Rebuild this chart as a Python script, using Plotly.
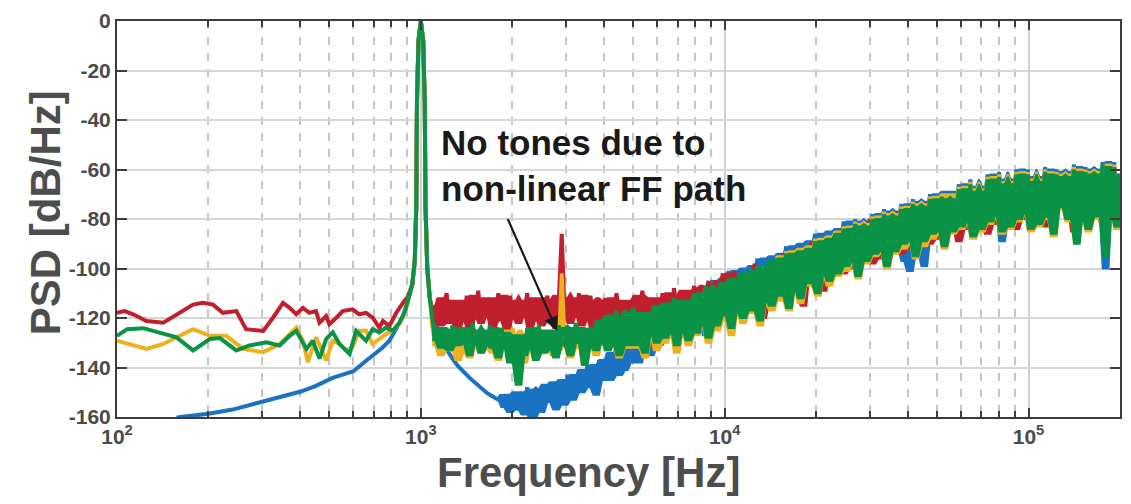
import numpy as np
import plotly.graph_objects as go

# ---------------------------------------------------------------------------
# Low-frequency part of each spectrum (Hz, dB/Hz), below the 1 kHz test tone
# ---------------------------------------------------------------------------
BLUE_LF_HZ = [157, 200, 240, 300, 350, 400, 450, 512, 550, 600, 662, 700, 747, 788, 831, 869, 905]
BLUE_LF_DB = [-160.2, -158.7, -157, -153.8, -151.8, -149.8, -147.5, -144.2, -143, -141.5,
              -137.2, -135, -132, -129.2, -124.6, -120, -113.5]

RED_LF_HZ = [100, 106, 113, 125, 142, 157, 178, 192, 207, 223, 247, 266, 303, 326, 352,
             370, 389, 409, 430, 452, 464, 488, 500, 527, 553, 596, 627, 660, 694, 730,
             750, 788, 830, 873, 905]
RED_LF_DB = [-117.9, -117.2, -118.5, -121.2, -121.9, -118.5, -114.6, -113.9, -114.6, -117.9,
             -117.2, -124.5, -125.2, -119.9, -113.9, -115.9, -118.5, -115.9, -117.9, -117.2,
             -121.9, -119.2, -122.5, -119.9, -117.2, -116.5, -118.5, -117.9, -119.9, -123.9,
             -121.2, -123.2, -117.9, -113.9, -111.5]

YELLOW_LF_HZ = [100, 110, 125, 142, 178, 202, 229, 260, 303, 343, 389, 409, 425, 452, 488,
                513, 540, 567, 596, 627, 660, 694, 730, 768, 808, 850, 885]
YELLOW_LF_DB = [-129.2, -130.5, -132.5, -130.5, -124.5, -127.2, -127.2, -132.5, -133.8, -130.5,
                -123.9, -129.2, -137.8, -127.8, -137.1, -129.2, -130.5, -133.1, -131.8, -125.2,
                -125.2, -130.5, -128.5, -126.5, -125.2, -122.5, -118]

GREEN_LF_HZ = [100, 108, 122, 138, 157, 178, 202, 218, 247, 273, 310, 343, 370, 389, 420,
               441, 464, 488, 513, 540, 583, 612, 660, 694, 730, 768, 808, 850, 885]
GREEN_LF_DB = [-127.2, -124.5, -124.1, -125.8, -127.8, -133.1, -128.5, -128.1, -133.1, -131.1,
               -129.8, -131.1, -127.2, -125.2, -132.5, -129.2, -136.4, -128.5, -125.8, -130.5,
               -134.5, -125.2, -129.2, -124.5, -125.8, -123.9, -125.2, -121.9, -117.5]

# 1 kHz test tone, common to all four spectra
TONE_HZ = [937, 955, 966, 971, 982, 1000, 1018, 1030, 1036, 1050, 1070]
TONE_DB = [-106.5, -97, -75, -33, -8, 0, -8, -33, -75, -100, -112]

# ---------------------------------------------------------------------------
# Shaped noise above the tone, sampled on a log-spaced bin grid 1.09k..200k
# ---------------------------------------------------------------------------
HF_START_HZ = 1090
HF_STOP_HZ = 200000

BLUE_HF_DB = [
    -118, -122, -125, -128, -130.5, -132.5, -134.5, -136.5, -138, -139.5,
    -140.5, -141.8, -143, -144.2, -145.3, -146.4, -147.4, -148.3, -149.7, -150.3,
    -151, -151.6, -152.2, -153, -151, -156, -152, -158, -150, -155,
    -157, -150, -159, -148, -155, -161, -149, -153, -158, -147,
    -154, -146, -152, -157, -145, -150, -155, -143, -149, -153,
    -147, -141, -150, -144, -139, -148, -142, -151, -137, -145,
    -140, -134, -145, -137, -131, -143, -136, -141, -130, -138,
    -133, -127, -138, -124, -130, -121, -135, -126, -119, -131,
    -122, -129, -117, -126, -113, -132, -120, -124, -116, -128,
    -115, -124, -110, -121, -107, -127, -113, -119, -105, -122,
    -104, -117, -109, -101, -122, -106, -114, -100, -119, -108,
    -99, -115, -104, -96, -119, -102, -110, -95, -113, -101,
    -94, -110, -98, -91, -114, -97, -105, -90, -111, -96,
    -89, -105, -94, -86, -108, -92, -99, -85, -104, -91,
    -84, -100, -89, -81, -98, -87, -95, -80, -101, -86,
    -81, -95, -85, -78, -93, -83, -90, -76, -97, -82,
    -77, -92, -81, -74, -97, -79, -101, -72, -94, -78,
    -73, -99, -78, -70, -88, -75, -83, -69, -90, -74,
    -69, -84, -75, -66, -82, -71, -79, -64, -86, -70,
    -67, -83, -72, -62, -80, -68, -76, -61, -89, -66,
    -64, -82, -71, -60, -79, -67, -75, -60, -83, -66,
    -63, -81, -70, -59, -78, -66, -85, -60, -74, -65,
    -61, -80, -69, -58, -86, -65, -77, -59, -83, -64,
    -60, -79, -68, -57, -100, -65, -76, -57, -82, -62,
]

RED_HF_DB = [
    -116, -121, -112, -123, -115, -110, -122, -117, -113, -124,
    -114, -120, -111, -125, -116, -119, -109, -122, -115, -118,
    -112, -124, -117, -110, -121, -114, -125, -111, -119, -116,
    -122, -113, -118, -110, -124, -115, -120, -112, -123, -117,
    -111, -121, -116, -124, -113, -86, -119, -112, -122, -115,
    -118, -110, -123, -114, -120, -111, -125, -116, -113, -121,
    -112, -119, -115, -122, -110, -117, -124, -113, -120, -114,
    -118, -111, -121, -109, -116, -123, -112, -119, -114, -122,
    -110, -118, -113, -121, -108, -116, -111, -120, -114, -109,
    -117, -107, -114, -120, -108, -112, -105, -118, -110, -115,
    -108, -102, -115, -106, -119, -101, -112, -109, -104, -117,
    -103, -113, -98, -110, -105, -120, -100, -108, -114, -97,
    -99, -108, -94, -112, -101, -96, -110, -92, -105, -115,
    -94, -103, -89, -107, -97, -92, -109, -87, -100, -95,
    -89, -98, -84, -102, -92, -87, -100, -83, -95, -90,
    -85, -94, -80, -98, -88, -83, -96, -79, -92, -86,
    -81, -90, -77, -94, -84, -79, -92, -75, -88, -82,
    -77, -86, -73, -90, -80, -75, -88, -72, -84, -78,
    -74, -82, -70, -89, -77, -72, -84, -68, -80, -75,
    -71, -80, -67, -86, -74, -69, -82, -65, -78, -72,
    -69, -78, -64, -84, -72, -67, -80, -63, -76, -70,
    -68, -77, -63, -83, -71, -66, -79, -62, -75, -69,
    -67, -76, -62, -85, -70, -65, -78, -61, -74, -68,
    -66, -75, -61, -82, -69, -64, -77, -60, -73, -67,
]

YELLOW_HF_DB = [
    -123, -131, -126, -135, -124, -129, -133, -125, -130, -137,
    -127, -133, -124, -136, -128, -131, -125, -134, -129, -132,
    -126, -134, -129, -137, -125, -131, -128, -135, -124, -133,
    -130, -127, -138, -125, -132, -129, -136, -126, -133, -128,
    -131, -126, -135, -128, -133, -102, -130, -127, -136, -129,
    -125, -132, -128, -138, -126, -131, -124, -135, -129, -127,
    -121, -133, -126, -131, -119, -136, -124, -129, -132, -122,
    -118, -132, -123, -129, -136, -120, -127, -117, -133, -124,
    -115, -130, -121, -126, -113, -134, -119, -125, -115, -131,
    -118, -111, -127, -114, -122, -108, -130, -116, -110, -125,
    -107, -121, -112, -105, -127, -109, -117, -103, -122, -111,
    -102, -118, -107, -100, -123, -105, -113, -98, -117, -104,
    -95, -113, -101, -93, -117, -100, -108, -92, -114, -99,
    -91, -107, -97, -88, -111, -95, -102, -87, -107, -94,
    -85, -103, -92, -83, -101, -90, -97, -81, -104, -89,
    -82, -98, -88, -79, -95, -86, -93, -77, -100, -85,
    -78, -94, -84, -75, -92, -82, -89, -73, -96, -81,
    -74, -91, -80, -71, -88, -78, -85, -70, -92, -77,
    -70, -86, -77, -67, -84, -74, -81, -65, -88, -72,
    -68, -85, -74, -63, -82, -71, -78, -62, -86, -69,
    -65, -84, -73, -61, -81, -70, -77, -61, -85, -68,
    -64, -83, -72, -60, -80, -69, -87, -61, -76, -67,
    -62, -81, -71, -59, -88, -68, -79, -60, -85, -66,
    -61, -80, -70, -58, -91, -67, -78, -58, -84, -64,
]

GREEN_HF_DB = [
    -121, -129, -124, -132, -125, -127, -133, -123, -128, -131,
    -124, -130, -126, -135, -122, -129, -127, -134, -125, -131,
    -123, -132, -128, -136, -124, -130, -126, -138, -127, -133,
    -147, -128, -135, -124, -131, -127, -137, -123, -130, -134,
    -125, -132, -128, -136, -123, -129, -131, -124, -135, -127,
    -122, -130, -126, -139, -124, -131, -127, -133, -121, -129,
    -119, -133, -123, -130, -117, -135, -122, -128, -131, -118,
    -116, -131, -121, -127, -134, -118, -125, -115, -130, -122,
    -114, -128, -119, -125, -112, -131, -118, -124, -113, -129,
    -117, -110, -126, -113, -121, -107, -128, -115, -109, -123,
    -106, -119, -111, -104, -124, -108, -116, -102, -120, -110,
    -101, -117, -106, -99, -121, -104, -112, -97, -115, -103,
    -96, -111, -100, -94, -116, -99, -107, -93, -112, -98,
    -92, -106, -96, -89, -110, -94, -101, -88, -105, -93,
    -86, -102, -91, -84, -99, -89, -96, -82, -103, -88,
    -83, -97, -87, -80, -94, -85, -92, -78, -99, -84,
    -79, -93, -83, -76, -90, -81, -88, -74, -95, -80,
    -75, -89, -79, -72, -86, -77, -84, -71, -91, -76,
    -72, -85, -76, -68, -83, -73, -80, -66, -87, -71,
    -69, -84, -73, -64, -81, -70, -77, -63, -85, -68,
    -66, -83, -72, -62, -80, -69, -76, -62, -84, -67,
    -65, -82, -71, -61, -79, -68, -86, -62, -75, -66,
    -63, -80, -70, -60, -90, -67, -78, -61, -84, -65,
    -62, -79, -69, -58, -95, -66, -77, -59, -83, -63,
]

# first noise bin of each series that belongs to the dense noise floor
NOISE_FROM = {"blue": 23, "red": 0, "yellow": 0, "green": 0}

COLORS = {
    "blue": "#1a72c2",
    "red": "#c0202e",
    "yellow": "#edb120",
    "green": "#0a9346",
}

X_TICK_EXPONENTS = [2, 3, 4, 5]
Y_TICKS = [0, -20, -40, -60, -80, -100, -120, -140, -160]


def spectrum(lf_hz, lf_db, hf_db):
    hf_hz = np.geomspace(HF_START_HZ, HF_STOP_HZ, len(hf_db))
    f = list(lf_hz) + TONE_HZ + list(hf_hz)
    p = list(lf_db) + TONE_DB + list(hf_db)
    return f, p, hf_hz


def noise_envelope(values):
    """Upper edge: 2nd-highest of 7 neighbours; lower edge: lowest of 3."""
    v = np.asarray(values, dtype=float)
    up, lo = [], []
    for i in range(len(v)):
        w = np.sort(v[max(0, i - 3):i + 4])
        up.append(w[-2] if len(w) > 1 else w[-1])
        lo.append(v[max(0, i - 1):i + 2].min())
    return np.array(up), np.array(lo)


fig = go.Figure()
for name, lf_hz, lf_db, hf_db in [
    ("blue", BLUE_LF_HZ, BLUE_LF_DB, BLUE_HF_DB),
    ("red", RED_LF_HZ, RED_LF_DB, RED_HF_DB),
    ("yellow", YELLOW_LF_HZ, YELLOW_LF_DB, YELLOW_HF_DB),
    ("green", GREEN_LF_HZ, GREEN_LF_DB, GREEN_HF_DB),
]:
    f, p, hf_hz = spectrum(lf_hz, lf_db, hf_db)
    k = NOISE_FROM[name]
    up, lo = noise_envelope(hf_db[k:])
    band_f = list(hf_hz[k:]) + list(hf_hz[k:][::-1])
    band_p = list(up) + list(lo[::-1])
    # dense noise floor: filled between the local envelopes
    fig.add_trace(go.Scatter(
        x=band_f, y=band_p, mode="lines", fill="toself",
        fillcolor=COLORS[name], line=dict(color=COLORS[name], width=2),
        showlegend=False, hoverinfo="skip",
    ))
    fig.add_trace(go.Scatter(
        x=f, y=p, mode="lines", name=name,
        line=dict(color=COLORS[name], width=4),
        showlegend=False, hoverinfo="skip",
    ))

FONT = "Arial, Liberation Sans, sans-serif"
AXIS_COLOR = "#3c3c3c"
LABEL_COLOR = "#4a4a4a"

W, H = 1131, 504
ML, MR, MT, MB = 117, 9, 15, 87
PW, PH = W - ML - MR, H - MT - MB


def px_x(px):
    return (px - ML) / PW


def px_y(py):
    return 1 - (py - MT) / PH


fig.update_layout(
    width=W, height=H,
    margin=dict(l=ML, r=MR, t=MT, b=MB),
    paper_bgcolor="white", plot_bgcolor="white",
    font=dict(family=FONT),
)

fig.update_xaxes(
    type="log",
    range=[2, np.log10(HF_STOP_HZ)],
    tickvals=[10 ** e for e in X_TICK_EXPONENTS],
    ticktext=[f"10<sup>{e}</sup>" for e in X_TICK_EXPONENTS],
    tickfont=dict(family=FONT, size=21, color=LABEL_COLOR, weight="bold"),
    ticks="inside", ticklen=9, tickwidth=1.5, tickcolor=AXIS_COLOR,
    showline=True, linecolor=AXIS_COLOR, linewidth=2, mirror="ticks",
    showgrid=True, gridcolor="#cfcfcf", gridwidth=1.5,
    minor=dict(
        dtick="D1",
        ticks="inside", ticklen=6, tickwidth=1.5, tickcolor=AXIS_COLOR,
        showgrid=True, gridcolor="#c4c4c4", gridwidth=1.5, griddash="8px,8px",
    ),
    zeroline=False,
)

fig.update_yaxes(
    range=[-160, 0],
    tickvals=Y_TICKS,
    ticktext=[str(v) for v in Y_TICKS],
    tickfont=dict(family=FONT, size=21, color=LABEL_COLOR, weight="bold"),
    ticks="inside", ticklen=10, tickwidth=1.5, tickcolor=AXIS_COLOR,
    showline=True, linecolor=AXIS_COLOR, linewidth=2, mirror="ticks",
    showgrid=True, gridcolor="#d6d6d6", gridwidth=1.5,
    zeroline=False,
)

# Axis titles
fig.add_annotation(
    text="PSD [dB/Hz]", xref="paper", yref="paper",
    x=px_x(45), y=px_y(210), xanchor="center", yanchor="middle",
    textangle=-90, showarrow=False,
    font=dict(family=FONT, size=42, color="#4d4d4d", weight="bold"),
)
fig.add_annotation(
    text="Frequency [Hz]", xref="paper", yref="paper",
    x=px_x(589), y=px_y(473), xanchor="center", yanchor="middle",
    showarrow=False,
    font=dict(family=FONT, size=42, color="#4d4d4d", weight="bold"),
)

# Callout about the missing spur
fig.add_annotation(
    text="No tones due to<br>non-linear FF path", xref="paper", yref="paper",
    x=px_x(440), y=px_y(117), xanchor="left", yanchor="top", align="left",
    showarrow=False,
    font=dict(family=FONT, size=35, color="#1a1a1a", weight="bold"),
)
fig.add_annotation(
    x=np.log10(2806), y=-125.2, xref="x", yref="y",
    ax=np.log10(1923), ay=-79.4, axref="x", ayref="y",
    text="", showarrow=True, arrowhead=2, arrowsize=1.3, arrowwidth=2.2,
    arrowcolor="#1a1a1a",
)

fig.write_html("out.html")
